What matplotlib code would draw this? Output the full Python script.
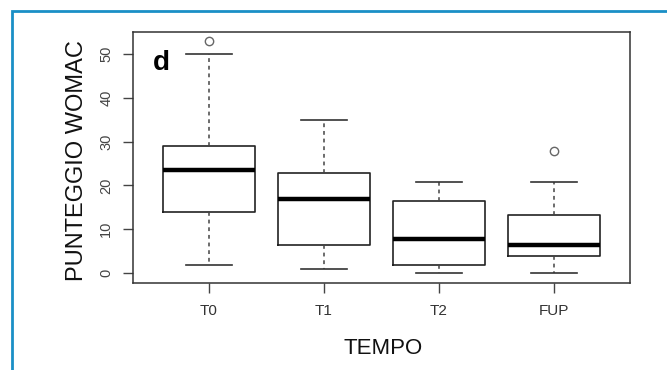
import matplotlib.pyplot as plt
from matplotlib.patches import Rectangle

plt.rcParams['font.family'] = ['Liberation Sans', 'DejaVu Sans']

# Box statistics (WOMAC score by time point)
groups = ['T0', 'T1', 'T2', 'FUP']
whislo = [1.8, 1.0, 0.0, 0.0]
q1 = [13.9, 6.3, 1.8, 3.8]
med = [23.5, 16.9, 7.8, 6.4]
q3 = [29.0, 22.8, 16.4, 13.3]
whishi = [50.0, 34.9, 20.8, 20.8]
outliers = [[52.9], [], [], [27.9]]
yticks = [0, 10, 20, 30, 40, 50]

stats = []
for i, g in enumerate(groups):
    stats.append(dict(label=g, whislo=whislo[i], q1=q1[i], med=med[i],
                      q3=q3[i], whishi=whishi[i], fliers=outliers[i]))

fig = plt.figure(figsize=(6.67, 3.70), dpi=100)
ax = fig.add_axes([133 / 667, 1 - 283 / 370, 497 / 667, 251 / 370])

ax.bxp(stats, positions=[1, 2, 3, 4], widths=0.8, capwidths=0.4,
       boxprops=dict(color='#222222', linewidth=1.2),
       medianprops=dict(color='black', linewidth=3.2, solid_capstyle='butt'),
       whiskerprops=dict(color='#444444', linewidth=1.1, linestyle=(0, (2.5, 2.5))),
       capprops=dict(color='#333333', linewidth=1.2),
       flierprops=dict(marker='o', markerfacecolor='none', markeredgecolor='#666666',
                       markersize=6, markeredgewidth=1.0))

ax.set_xlim(0.34, 4.66)
ax.set_ylim(-2.3, 55.0)
ax.set_yticks(yticks)
ax.set_yticklabels([str(v) for v in yticks], rotation=90, va='center')
ax.set_xticks([1, 2, 3, 4])
ax.set_xticklabels(groups)

for s in ax.spines.values():
    s.set_color('#333333')
    s.set_linewidth(1.1)
ax.tick_params(axis='both', length=7.2, width=1.0, color='#444444')
ax.tick_params(axis='y', labelsize=10.5, labelcolor='#444444', pad=7)
ax.tick_params(axis='x', labelsize=11, labelcolor='#333333', pad=8)

ax.text(153 / 667, 1 - 70 / 370, 'd', transform=fig.transFigure,
        fontsize=20, fontweight='bold', ha='left', va='baseline')

fig.text(77 / 667, 1 - 161 / 370, 'PUNTEGGIO WOMAC', rotation=90,
         fontsize=17, ha='center', va='center', color='#111111')
fig.text(383 / 667, 1 - 348 / 370, 'TEMPO', fontsize=16,
         ha='center', va='center', color='#111111')

# blue frame around the figure (open at right and bottom)
fig.patches.append(Rectangle((12 / 667, -0.1), 1.2, 1 - 11 / 370 + 0.1,
                             transform=fig.transFigure, fill=False,
                             edgecolor='#1a8fc6', linewidth=2.0))

fig.savefig('out.png', dpi=100)
plt.close(fig)
